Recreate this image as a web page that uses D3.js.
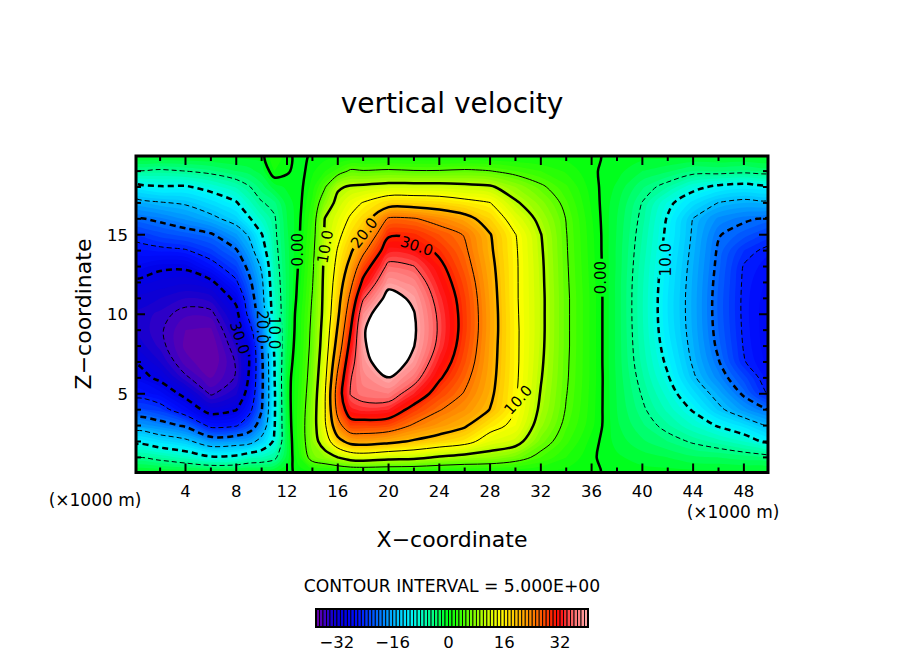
<!DOCTYPE html>
<html>
<head>
<meta charset="utf-8">
<script src="https://cdn.jsdelivr.net/npm/d3@7"></script>
<style>
  body { margin: 0; background: #fff; }
  text { font-family: "DejaVu Sans", sans-serif; fill: #000; }
</style>
</head>
<body>
<svg id="chart" width="904" height="654"></svg>
<script>
// sample positions of the field (x in 1000 m, z in 1000 m)
const xs = [0, 2, 4, 6, 8, 9, 10, 11, 12, 13, 14, 15, 16, 17, 18, 20, 22, 24, 26, 28, 30, 32, 34, 36, 38, 40, 42, 44, 46, 48, 50];
const zs = [0, 1, 2, 3, 4, 5, 6, 7, 8, 9, 10, 11, 12, 13, 14, 15, 16, 17, 18, 19, 20];

// vertical velocity, one profile (z = 0..20) per x column
const wCols = [
  [-0.5, -5.3, -11, -17, -22.5, -26, -28.5, -30.2, -32, -33, -33.2, -32.5, -30.5, -28.4, -26.4, -24, -20.5, -16.5, -11.5, -5.5, -0.5],
  [-0.5, -6, -12.5, -18.5, -23.5, -27.5, -30.7, -33, -34.3, -34.7, -34.3, -33, -31.3, -29.5, -25.8, -22.5, -19.3, -15.3, -10.3, -5.5, -0.5],
  [-0.5, -7.5, -14, -20.5, -27.4, -31, -34.6, -36.5, -37.3, -37, -35.8, -34, -31.8, -29.5, -25.3, -21.5, -17.8, -14.6, -10.4, -5, -0.5],
  [-0.5, -9.5, -17.5, -26, -31.5, -35.3, -37, -38, -38, -37.2, -35.6, -33.5, -30.8, -26.3, -23.3, -20.4, -16, -12.7, -8.8, -4.2, -0.5],
  [-0.5, -9, -17, -25.3, -30.1, -33.2, -34.8, -34.8, -33.8, -32.5, -31.2, -29, -25.5, -23, -20.3, -17.2, -13.5, -10.3, -6.8, -3, -0.5],
  [-0.5, -7.5, -16.5, -22.5, -26.3, -28.5, -29.7, -30.2, -29.8, -27, -23.8, -22.5, -21, -19, -16.8, -14.6, -10.4, -7.5, -5.2, -2.5, -0.5],
  [-0.5, -7, -13.5, -18, -20.2, -20.8, -21, -20.8, -20.2, -19, -17.5, -16.5, -15.8, -14.5, -12, -10.2, -7.5, -5.2, -3.5, -1.5, -0.6],
  [-0.5, -5.8, -9.5, -10.3, -10.5, -10.5, -10.2, -10.1, -9.5, -8.8, -8, -7.5, -7, -6.5, -6, -5.6, -5.3, -4.3, -1.5, 1, 2],
  [-0.3, -1.5, -1.8, -1.5, -1.2, -1, -1, -1.5, -2, -2.3, -2.5, -2.6, -2.6, -2.5, -2.4, -2.2, -2, -1.5, -0.8, 0.2, 0.4],
  [0.3, 2, 2.8, 3, 2.8, 2.5, 2.2, 2, 1.8, 1.6, 1.5, 1, 0.7, 0.4, 0.2, -0.05, -0.2, -0.4, -0.5, -0.6, -0.6],
  [0.5, 6.5, 7.8, 8, 7.8, 7.3, 6.8, 6.4, 6, 5.8, 5.5, 5.2, 4.8, 4.4, 4, 3.5, 3, 2.3, 1.5, 0.8, 0.3],
  [0.5, 8, 12.5, 14.5, 14.9, 14.8, 14, 13.2, 12.5, 12, 11.5, 11.3, 11.2, 11, 10.8, 10.5, 10.2, 7.5, 4.8, 2, 0.5],
  [0.5, 10, 18.5, 23.5, 26.5, 27.5, 26, 24, 22, 20.5, 19.2, 18.3, 17.3, 16.3, 15.3, 14, 12.8, 11.2, 9.5, 3.5, 0.5],
  [0.5, 12, 21.5, 28, 32.5, 35.2, 34.8, 33.3, 31.5, 29.8, 28, 26, 23.8, 21.5, 19.3, 17.3, 15.5, 13.5, 10.5, 5.5, 0.5],
  [0.5, 12.5, 22, 28, 33.5, 36.5, 37.5, 38.5, 39.3, 39.5, 38, 34.7, 31, 27.7, 24, 20.1, 17.7, 15.2, 10.8, 5.2, 0.5],
  [0.5, 11.5, 21, 27.5, 33, 37, 39.9, 43, 44.5, 45, 44, 41.5, 38.8, 36, 32.5, 29.5, 25.5, 18, 11.5, 5.5, 0.5],
  [0.5, 11, 19.5, 24.5, 28.5, 33, 36.5, 38.8, 40.1, 40.5, 40.2, 39.3, 37.5, 35.1, 32, 29.3, 25.3, 18, 11.5, 5.2, 0.5],
  [0.5, 9.5, 18, 22.5, 25.2, 28, 30.5, 32.5, 34, 34.5, 34.3, 33.5, 32.3, 31, 29.2, 27, 23.5, 17.5, 11.5, 5.2, 0.5],
  [0.5, 8.5, 16.5, 20.5, 23, 24.7, 26, 27.2, 28, 28.5, 28.5, 28.2, 27.5, 26.5, 25.6, 24.8, 21.5, 16.3, 11, 5.5, 0.5],
  [0.5, 8, 13, 16.5, 19.9, 20.8, 21.3, 21.6, 21.8, 22, 22, 21.8, 21.5, 21.1, 20.6, 20.2, 18, 15.1, 10.5, 5.1, 0.5],
  [0.5, 6.5, 11.5, 14, 15.1, 15.4, 15.6, 15.7, 15.7, 15.7, 15.6, 15.5, 15.5, 15.5, 15.4, 15.1, 13, 10.5, 8, 4, 0.5],
  [0.5, 4, 6.5, 8.3, 9.3, 9.8, 10.2, 10.5, 10.7, 10.8, 10.8, 10.8, 10.7, 10.6, 10.4, 10.1, 9, 7.5, 5.5, 3, 0.5],
  [0.5, 2, 3.3, 4.2, 4.8, 5.1, 5.3, 5.4, 5.5, 5.5, 5.5, 5.5, 5.4, 5.3, 5.2, 5.1, 4.9, 4.2, 3.2, 1.8, 0.5],
  [0.3, 0.2, 0.6, 1.3, 1.5, 1.6, 1.7, 1.7, 1.7, 1.7, 1.7, 1.7, 1.6, 1.5, 1.4, 1.3, 1.1, 0.8, 0.5, 0.2, 0.3],
  [-0.5, -0.8, -1.4, -1.8, -2, -2.1, -2.2, -2.3, -2.3, -2.3, -2.3, -2.3, -2.3, -2.2, -2.2, -2.1, -2, -1.7, -1.2, -0.6, -0.5],
  [-0.5, -1.5, -2.8, -3.8, -4.6, -5.2, -5.8, -6.3, -6.6, -6.8, -6.9, -6.9, -6.8, -6.6, -6.3, -6, -5.6, -5.1, -3.8, -2, -0.5],
  [-0.5, -2, -4, -5.8, -7.3, -8.5, -9.7, -10.6, -11.3, -11.8, -12, -12, -11.8, -11.5, -11.1, -10.7, -10.3, -9.2, -6, -2.8, -0.5],
  [-0.5, -2.8, -5.3, -8, -10.3, -12.5, -14.5, -15.4, -15.9, -16.2, -16.3, -16.3, -16.2, -16, -15.7, -15.4, -15.1, -12.5, -9, -4, -0.5],
  [-0.5, -3, -6.5, -10.3, -14.2, -16.3, -18.5, -19.8, -20.6, -21, -21.2, -21.2, -21, -20.7, -20.4, -19.8, -18.3, -15.1, -10.8, -3.8, -0.5],
  [-0.5, -3.5, -8, -12.5, -17.5, -20.5, -22.5, -24.8, -25.2, -25.4, -25.5, -25.5, -25.4, -25.2, -24, -21.5, -19.5, -16, -11.5, -4.2, -0.5],
  [-0.5, -4, -11, -15.5, -20.2, -25.5, -26.8, -27.5, -27.9, -28, -28, -27.8, -27.3, -26.6, -25.8, -23.5, -20.5, -15.8, -11.2, -3.7, -0.5]
];

const fillMin = -38, fillMax = 40;            // colour bands, 1 unit each
const lineLevels = d3.range(-35, 41, 5);      // contour interval 5
const xTicks = [4, 8, 12, 16, 20, 24, 28, 32, 36, 40, 44, 48];
const xMinorTicks = [2, 6, 10, 14, 18, 22, 26, 30, 34, 38, 42, 46];
const zTicks = [5, 10, 15];
const zMinorTicks = [1, 2, 3, 4, 6, 7, 8, 9, 11, 12, 13, 14, 16, 17, 18, 19];
const barTicks = [-32, -16, 0, 16, 32];

// contour labels: text and where they sit (data units, angle in degrees)
const labelText  = ["0.00", "10.0", "20.0", "30.0", "10.0", "0.00", "10.0", "30.0", "20.0", "10.0"];
const labelX     = [12.86, 14.98, 18.06, 22.23, 30.2, 36.72, 41.85, 8.29, 10.04, 10.97];
const labelZ     = [14.06, 14.25, 15.13, 14.3, 4.62, 12.3, 13.43, 8.52, 9.2, 8.84];
const labelAngle = [-90, -80, -52, 18, -48, -90, -90, 72, 90, 90];

// palette
const colorStops = [-38, -35.5, -33, -30, -26, -22, -18, -14, -11, -8, -4, 0, 4, 8, 12, 15, 18, 22, 26, 30, 32, 36, 40];
const colorHex = ["#6a00a6", "#4000c0", "#1000d2", "#0000e6", "#0010ff", "#0050ff", "#0090ff", "#00ccff", "#00f4ff",
                  "#00ffcc", "#00ff7a", "#00ff10", "#40ff00", "#90ff00", "#d8ff00", "#ffff00", "#ffd400", "#ffa000",
                  "#ff6400", "#ff1e00", "#ff0a0a", "#ff6e6e", "#ffaaaa"];
const color = d3.scaleLinear().domain(colorStops).range(colorHex).interpolate(d3.interpolateRgb).clamp(true);

const svg = d3.select("#chart");
const plotL = 136, plotR = 768, plotT = 156, plotB = 472.5;

const xScale = d3.scaleLinear().domain([0.1, 49.9]).range([plotL, plotR]);
const zScale = d3.scaleLinear().domain([0.05, 19.95]).range([plotB, plotT]);

// grid of values for d3.contours (row 0 = top)
const n = xs.length, m = zs.length;
const values = new Array(n * m);
for (let j = 0; j < m; j++) {
    for (let i = 0; i < n; i++) {
        values[j * n + i] = wCols[i][m - 1 - j];
    }
}

// grid units -> data units -> pixels
const gxToX = d3.scaleLinear().domain(xs.map((d, i) => i + 0.5)).range(xs);
const gyToZ = d3.scaleLinear().domain(zs.map((d, j) => j + 0.5)).range(zs.slice().reverse());
const ringLine = d3.line().curve(d3.curveCatmullRomClosed.alpha(0.5));

function contourPath(geom) {
    return geom.coordinates.map(poly => poly.map(ring => {
        const pts = ring.slice(0, -1).map(([gx, gy]) => [xScale(gxToX(gx)), zScale(gyToZ(gy))]);
        return ringLine(pts);
    }).join("")).join("");
}

const defs = svg.append("defs");
defs.append("clipPath").attr("id", "plotClip")
    .append("rect").attr("x", plotL).attr("y", plotT)
    .attr("width", plotR - plotL).attr("height", plotB - plotT);

// filled bands
const fillThresholds = d3.range(fillMin + 1, fillMax + 1);
const bands = d3.contours().size([n, m]).thresholds(fillThresholds)(values);

const plot = svg.append("g").attr("clip-path", "url(#plotClip)");
plot.append("rect")
    .attr("x", plotL).attr("y", plotT)
    .attr("width", plotR - plotL).attr("height", plotB - plotT)
    .attr("fill", color(fillMin + 0.5));

plot.append("g").selectAll("path")
    .data(bands)
    .join("path")
    .attr("d", contourPath)
    .attr("fill-rule", "evenodd")
    .attr("fill", d => d.value >= fillMax ? "#ffffff" : color(d.value + 0.5))
    .attr("stroke", "none");

// gaps in the lines where labels sit
const mask = defs.append("mask").attr("id", "labelMask")
    .attr("maskUnits", "userSpaceOnUse")
    .attr("x", 0).attr("y", 0).attr("width", 904).attr("height", 654);
mask.append("rect").attr("x", 0).attr("y", 0).attr("width", 904).attr("height", 654).attr("fill", "#fff");
labelText.forEach((t, k) => {
    const cx = xScale(labelX[k]), cy = zScale(labelZ[k]);
    const w = t.length * 9 + 2;
    mask.append("rect")
        .attr("x", cx - w / 2).attr("y", cy - 8)
        .attr("width", w).attr("height", 16)
        .attr("fill", "#000")
        .attr("transform", `rotate(${labelAngle[k]},${cx},${cy})`);
});

const lines = d3.contours().size([n, m]).thresholds(lineLevels)(values);
plot.append("g").attr("mask", "url(#labelMask)")
    .selectAll("path")
    .data(lines)
    .join("path")
    .attr("d", contourPath)
    .attr("fill", "none")
    .attr("stroke", "#000")
    .attr("stroke-width", d => d.value % 10 === 0 ? 2.5 : 1)
    .attr("stroke-dasharray", d => d.value < 0 ? (d.value % 10 === 0 ? "6,4" : "5,3") : null)
    .attr("stroke-linejoin", "round");

plot.append("g").selectAll("text")
    .data(labelText)
    .join("text")
    .attr("transform", (d, k) => `translate(${xScale(labelX[k])},${zScale(labelZ[k])}) rotate(${labelAngle[k]})`)
    .attr("text-anchor", "middle")
    .attr("dy", "0.36em")
    .style("font-size", "15px")
    .text(d => d);

// frame and ticks
svg.append("rect")
    .attr("x", plotL).attr("y", plotT)
    .attr("width", plotR - plotL).attr("height", plotB - plotT)
    .attr("fill", "none").attr("stroke", "#000").attr("stroke-width", 3);

const tickG = svg.append("g").attr("stroke", "#000").attr("stroke-width", 2);
function xTickMarks(list, len) {
    list.forEach(v => {
        const x = xScale(v);
        tickG.append("line").attr("x1", x).attr("x2", x).attr("y1", plotB).attr("y2", plotB - len);
        tickG.append("line").attr("x1", x).attr("x2", x).attr("y1", plotT).attr("y2", plotT + len);
    });
}
function zTickMarks(list, len) {
    list.forEach(v => {
        const y = zScale(v);
        tickG.append("line").attr("x1", plotL).attr("x2", plotL + len).attr("y1", y).attr("y2", y);
        tickG.append("line").attr("x1", plotR).attr("x2", plotR - len).attr("y1", y).attr("y2", y);
    });
}
xTickMarks(xTicks, 9);
xTickMarks(xMinorTicks, 5);
zTickMarks(zTicks, 9);
zTickMarks(zMinorTicks, 5);

svg.append("g").selectAll("text")
    .data(xTicks)
    .join("text")
    .attr("x", d => xScale(d))
    .attr("y", 497)
    .attr("text-anchor", "middle")
    .style("font-size", "16.5px")
    .text(d => d);

svg.append("g").selectAll("text")
    .data(zTicks)
    .join("text")
    .attr("x", 128)
    .attr("y", d => zScale(d) + 6)
    .attr("text-anchor", "end")
    .style("font-size", "16.5px")
    .text(d => d);

svg.append("text").attr("x", 95).attr("y", 506).attr("text-anchor", "middle")
    .style("font-size", "17px").text("(\u00d71000 m)");
svg.append("text").attr("x", 733).attr("y", 518).attr("text-anchor", "middle")
    .style("font-size", "17px").text("(\u00d71000 m)");

svg.append("text").attr("x", 452).attr("y", 113).attr("text-anchor", "middle")
    .style("font-size", "28px").text("vertical velocity");
svg.append("text").attr("x", 452).attr("y", 547).attr("text-anchor", "middle")
    .style("font-size", "22px").text("X\u2212coordinate");
svg.append("text").attr("transform", "translate(91,314) rotate(-90)").attr("text-anchor", "middle")
    .style("font-size", "22px").text("Z\u2212coordinate");

svg.append("text").attr("x", 452).attr("y", 592).attr("text-anchor", "middle")
    .style("font-size", "17.2px").text("CONTOUR INTERVAL = 5.000E+00");

// colour bar
const barScale = d3.scaleLinear().domain([fillMin, fillMax]).range([316, 588]);
const barTop = 609, barH = 18;
const barG = svg.append("g");
barG.selectAll("rect")
    .data(d3.range(fillMin, fillMax))
    .join("rect")
    .attr("x", d => barScale(d))
    .attr("y", barTop)
    .attr("width", d => barScale(d + 1) - barScale(d))
    .attr("height", barH)
    .attr("fill", d => color(d + 0.5))
    .attr("stroke", "#000")
    .attr("stroke-width", 0.9);
barG.append("rect")
    .attr("x", barScale(fillMin)).attr("y", barTop)
    .attr("width", barScale(fillMax) - barScale(fillMin)).attr("height", barH)
    .attr("fill", "none").attr("stroke", "#000").attr("stroke-width", 2);

barG.selectAll("text")
    .data(barTicks)
    .join("text")
    .attr("x", d => barScale(d))
    .attr("y", 648)
    .attr("text-anchor", "middle")
    .style("font-size", "16.5px")
    .text(d => d < 0 ? "\u2212" + Math.abs(d) : d);
</script>
</body>
</html>
